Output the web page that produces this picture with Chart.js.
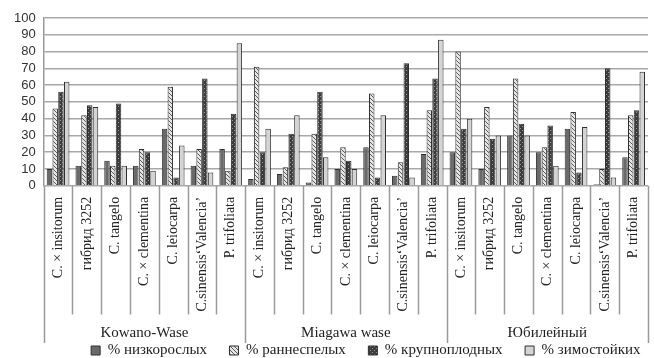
<!DOCTYPE html>
<html>
<head>
<meta charset="utf-8">
<script src="https://cdn.jsdelivr.net/npm/chart.js@4"></script>
<style>
  html, body { margin: 0; padding: 0; background: #fff; }
  #wrap { width: 654px; height: 358px; }
</style>
</head>
<body>
<div id="wrap"><canvas id="bars"></canvas></div>
<script>
// rootstocks, repeated for every variety
const rootstocks = ['C. × insitorum', 'гибрид 3252', 'C. tangelo', 'C. × clementina', 'C. leiocarpa', 'C.sinensis‘Valencia’', 'P. trifoliata'];
const varieties = ['Kowano-Wase', 'Miagawa wase', 'Юбилейный'];
const labels = [].concat(rootstocks, rootstocks, rootstocks);

const seriesNames = ['% низкорослых', '% раннеспелых', '% крупноплодных', '% зимостойких'];
const nizkoroslye = [10, 12, 15, 12, 34, 12, 22, 4, 7, 2, 10, 23, 6, 19, 20, 10, 30, 20, 34, 1, 17];
const rannespelye = [46, 42, 12, 22, 59, 22, 9, 71, 11, 31, 23, 55, 14, 45, 80, 47, 64, 23, 44, 10, 42];
const krupnoplodnye = [56, 48, 49, 20, 5, 64, 43, 20, 31, 56, 15, 5, 73, 64, 34, 28, 37, 36, 8, 70, 45];
const zimostoikie = [62, 47, 12, 9, 24, 8, 85, 34, 42, 17, 10, 42, 5, 87, 40, 30, 30, 12, 35, 5, 68];

// small canvas patterns to imitate the grey print fills
function makePattern(draw) {
  const c = document.createElement('canvas');
  c.width = 4; c.height = 4;
  draw(c.getContext('2d'));
  return c.getContext('2d').createPattern(c, 'repeat');
}
const fillSolid = '#6a6a6a';
const fillHatch = makePattern(g => {
  g.fillStyle = '#e6e6e6'; g.fillRect(0, 0, 4, 4);
  g.fillStyle = '#5a5a5a';
  for (let i = 0; i < 4; i++) g.fillRect(i, i, 1, 1);
});
const fillCheck = makePattern(g => {
  g.fillStyle = '#3c3c3c'; g.fillRect(0, 0, 4, 4);
  g.fillStyle = '#9a9a9a';
  g.fillRect(0, 0, 1, 1); g.fillRect(2, 2, 1, 1);
});
const fillLight = '#d4d4d4';

const serif = "'Liberation Serif', 'DejaVu Serif', serif";

// separators between rootstocks and between varieties
const separators = {
  id: 'separators',
  afterDraw(chart) {
    const xs = chart.scales.x;
    const ctx = chart.ctx;
    const n = labels.length;
    const w = (xs.right - xs.left) / n;
    ctx.save();
    ctx.strokeStyle = '#9a9a9a';
    ctx.lineWidth = 1.5;
    for (let i = 0; i <= n; i++) {
      const x = Math.round(xs.left + i * w) + 0.5;
      const bottom = i % rootstocks.length === 0 ? chart.scales.x2.bottom : xs.bottom;
      ctx.beginPath();
      ctx.moveTo(x, xs.top);
      ctx.lineTo(x, bottom);
      ctx.stroke();
    }
    ctx.restore();
  }
};

const ctx = document.getElementById('bars');
new Chart(ctx, {
  type: 'bar',
  data: {
    labels: labels,
    datasets: [
      { label: seriesNames[0], data: nizkoroslye, backgroundColor: fillSolid },
      { label: seriesNames[1], data: rannespelye, backgroundColor: fillHatch },
      { label: seriesNames[2], data: krupnoplodnye, backgroundColor: fillCheck },
      { label: seriesNames[3], data: zimostoikie, backgroundColor: fillLight },
    ].map(d => Object.assign(d, {
      borderColor: '#2f2f2f',
      borderWidth: 1,
      categoryPercentage: 0.8,
      barPercentage: 0.95,
    })),
  },
  options: {
    responsive: true,
    maintainAspectRatio: false,
    animation: false,
    layout: { padding: { top: 18, right: 6, left: 6, bottom: -10 } },
    scales: {
      y: {
        min: 0,
        max: 100,
        ticks: { stepSize: 10, autoSkip: false, color: '#333', font: { family: "'Liberation Sans', Arial, sans-serif", size: 13 }, padding: 8 },
        grid: { color: '#a8a8a8', lineWidth: 1.5, drawTicks: false },
        border: { color: '#9a9a9a', width: 1.5 },
      },
      x: {
        ticks: {
          autoSkip: false,
          minRotation: 90,
          maxRotation: 90,
          color: '#222',
          font: { family: serif, size: 14 },
          padding: 3,
        },
        grid: { display: false },
        border: { display: false },
      },
      x2: {
        type: 'category',
        position: 'bottom',
        labels: varieties,
        ticks: { color: '#222', font: { family: serif, size: 15, lineHeight: 1.1 }, padding: 2 },
        grid: { display: false },
        border: { display: false },
      },
    },
    plugins: {
      legend: {
        position: 'bottom',
        align: 'end',
        labels: {
          boxWidth: 9,
          boxHeight: 9,
          padding: 0,
          color: '#222',
          font: { family: serif, size: 15 },
          // widen the items with trailing spaces instead of a tall padding
          generateLabels(chart) {
            const items = Chart.defaults.plugins.legend.labels.generateLabels(chart);
            items.forEach((it, i) => { it.text += i < items.length - 1 ? '\u2003\u2002' : '\u2002'; });
            return items;
          },
        },
      },
      tooltip: { enabled: false },
    },
  },
  plugins: [separators],
});
</script>
</body>
</html>
